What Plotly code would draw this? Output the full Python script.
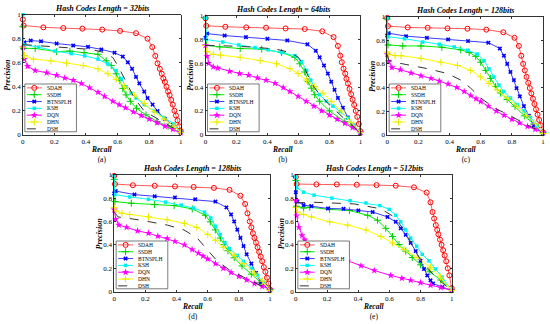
import plotly.graph_objects as go

# ---------------- DATA ----------------
METHODS = ["SDAH", "SSDH", "BTNSPLH", "KSH", "DQN", "DHN", "DSH"]
PANEL_TITLES = ["Hash Codes Length = 32bits", "Hash Codes Length = 64bits",
                "Hash Codes Length = 128bits", "Hash Codes Length = 128bits",
                "Hash Codes Length = 512bits"]
PANEL_LETTERS = ["(a)", "(b)", "(c)", "(d)", "(e)"]
TICK_VALS = [0, 0.2, 0.4, 0.6, 0.8, 1]
TICK_TEXT = ["0", "0.2", "0.4", "0.6", "0.8", "1"]

# ---- (a) 32 bits ----
a_sdah_r = [0, 0.005, 0.13, 0.256, 0.377, 0.503, 0.616, 0.717, 0.79, 0.82, 0.839, 0.853, 0.868, 0.88, 0.89, 0.90, 0.91, 0.92, 0.93, 0.94, 0.95, 0.96, 0.97, 0.98, 0.99, 1.0]
a_sdah_p = [0.96, 0.91, 0.895, 0.889, 0.884, 0.876, 0.865, 0.846, 0.80, 0.73, 0.657, 0.595, 0.549, 0.508, 0.47, 0.44, 0.40, 0.36, 0.33, 0.29, 0.25, 0.20, 0.16, 0.12, 0.07, 0.03]
a_ssdh_r = [0, 0.005, 0.078, 0.214, 0.298, 0.388, 0.476, 0.528, 0.56, 0.591, 0.612, 0.633, 0.654, 0.681, 0.72, 0.78, 0.85, 0.92, 1.0]
a_ssdh_p = [0.90, 0.72, 0.719, 0.692, 0.697, 0.684, 0.67, 0.616, 0.576, 0.508, 0.454, 0.386, 0.332, 0.278, 0.22, 0.165, 0.11, 0.07, 0.02]
a_btn_r = [0, 0.01, 0.05, 0.115, 0.214, 0.319, 0.413, 0.497, 0.581, 0.633, 0.665, 0.692, 0.717, 0.738, 0.769, 0.79, 0.822, 0.853, 0.9, 0.95, 1.0]
a_btn_p = [0.724, 0.77, 0.785, 0.778, 0.76, 0.743, 0.732, 0.711, 0.684, 0.651, 0.603, 0.549, 0.481, 0.427, 0.359, 0.305, 0.251, 0.197, 0.13, 0.08, 0.02]
a_ksh_r = [0, 0.005, 0.099, 0.203, 0.308, 0.392, 0.476, 0.539, 0.591, 0.623, 0.654, 0.686, 0.717, 0.769, 0.832, 0.895, 0.958, 1.0]
a_ksh_p = [1.0, 0.75, 0.73, 0.697, 0.676, 0.657, 0.63, 0.589, 0.535, 0.468, 0.40, 0.346, 0.305, 0.251, 0.197, 0.143, 0.089, 0.02]
a_dqn_r = [0, 0.01, 0.03, 0.078, 0.151, 0.214, 0.266, 0.319, 0.371, 0.423, 0.476, 0.518, 0.57, 0.61, 0.65, 0.70, 0.75, 0.80, 0.85, 0.90, 0.95, 1.0]
a_dqn_p = [0.73, 0.63, 0.57, 0.535, 0.516, 0.495, 0.473, 0.454, 0.427, 0.392, 0.354, 0.319, 0.278, 0.25, 0.225, 0.19, 0.16, 0.13, 0.10, 0.07, 0.045, 0.015]
a_dhn_r = [0, 0.01, 0.067, 0.178, 0.277, 0.382, 0.476, 0.539, 0.591, 0.644, 0.706, 0.769, 0.832, 0.895, 0.958, 1.0]
a_dhn_p = [0.73, 0.66, 0.63, 0.616, 0.597, 0.576, 0.549, 0.508, 0.462, 0.40, 0.33, 0.26, 0.19, 0.13, 0.07, 0.02]
a_dsh_r = [0, 0.078, 0.287, 0.434, 0.518, 0.57, 0.602, 0.633, 0.665, 0.706, 0.769, 0.874, 1.0]
a_dsh_p = [0.751, 0.743, 0.724, 0.711, 0.684, 0.643, 0.576, 0.495, 0.414, 0.305, 0.197, 0.116, 0.02]

# ---- (b) 64 bits ----
b_sdah_r = [0, 0.005, 0.128, 0.263, 0.391, 0.517, 0.641, 0.754, 0.827, 0.855, 0.87, 0.88, 0.891, 0.902, 0.91, 0.92, 0.93, 0.94, 0.95, 0.96, 0.97, 0.98, 0.99, 1.0]
b_sdah_p = [0.978, 0.915, 0.907, 0.902, 0.899, 0.893, 0.888, 0.869, 0.82, 0.746, 0.664, 0.609, 0.555, 0.514, 0.47, 0.43, 0.385, 0.34, 0.295, 0.25, 0.20, 0.15, 0.09, 0.03]
b_ssdh_r = [0, 0.005, 0.092, 0.224, 0.363, 0.491, 0.577, 0.609, 0.641, 0.662, 0.684, 0.705, 0.737, 0.8, 0.9, 1.0]
b_ssdh_p = [0.98, 0.75, 0.738, 0.724, 0.719, 0.691, 0.65, 0.596, 0.527, 0.445, 0.391, 0.336, 0.281, 0.20, 0.11, 0.02]
b_btn_r = [0, 0.01, 0.124, 0.261, 0.40, 0.528, 0.658, 0.712, 0.737, 0.765, 0.79, 0.812, 0.833, 0.855, 0.887, 0.919, 0.951, 1.0]
b_btn_p = [0.814, 0.85, 0.833, 0.82, 0.806, 0.792, 0.76, 0.705, 0.65, 0.582, 0.514, 0.445, 0.377, 0.309, 0.227, 0.145, 0.077, 0.01]
b_ksh_r = [0, 0.005, 0.111, 0.214, 0.32, 0.406, 0.491, 0.577, 0.62, 0.652, 0.679, 0.705, 0.737, 0.78, 0.823, 0.87, 0.92, 0.96, 1.0]
b_ksh_p = [0.98, 0.80, 0.779, 0.754, 0.732, 0.713, 0.691, 0.664, 0.615, 0.541, 0.459, 0.391, 0.336, 0.281, 0.24, 0.195, 0.14, 0.08, 0.02]
b_dqn_r = [0, 0.01, 0.02, 0.05, 0.079, 0.156, 0.22, 0.278, 0.335, 0.391, 0.449, 0.502, 0.545, 0.598, 0.65, 0.70, 0.75, 0.80, 0.85, 0.90, 0.95, 1.0]
b_dqn_p = [0.75, 0.66, 0.60, 0.57, 0.56, 0.533, 0.514, 0.50, 0.478, 0.459, 0.432, 0.396, 0.363, 0.322, 0.28, 0.24, 0.20, 0.165, 0.13, 0.095, 0.06, 0.02]
b_dhn_r = [0, 0.01, 0.05, 0.096, 0.224, 0.353, 0.459, 0.545, 0.598, 0.652, 0.705, 0.759, 0.812, 0.876, 0.94, 1.0]
b_dhn_p = [0.75, 0.70, 0.675, 0.669, 0.65, 0.623, 0.596, 0.555, 0.514, 0.459, 0.404, 0.35, 0.281, 0.199, 0.104, 0.02]
b_dsh_r = [0, 0.1, 0.3, 0.45, 0.55, 0.6, 0.63, 0.66, 0.7, 0.75, 0.8, 0.9, 1.0]
b_dsh_p = [0.75, 0.748, 0.737, 0.72, 0.69, 0.65, 0.59, 0.50, 0.40, 0.32, 0.25, 0.13, 0.02]

# ---- (c) 128 bits ----
c_sdah_r = [0, 0.005, 0.132, 0.26, 0.387, 0.515, 0.636, 0.745, 0.817, 0.845, 0.86, 0.872, 0.883, 0.894, 0.905, 0.915, 0.925, 0.935, 0.945, 0.955, 0.965, 0.975, 0.985, 1.0]
c_sdah_p = [0.99, 0.92, 0.909, 0.906, 0.901, 0.898, 0.89, 0.868, 0.821, 0.752, 0.669, 0.60, 0.545, 0.49, 0.44, 0.395, 0.35, 0.305, 0.26, 0.215, 0.17, 0.125, 0.08, 0.02]
c_ssdh_r = [0, 0.005, 0.10, 0.217, 0.351, 0.472, 0.526, 0.568, 0.60, 0.632, 0.664, 0.696, 0.728, 0.77, 0.82, 0.88, 0.94, 1.0]
c_ssdh_p = [0.98, 0.76, 0.752, 0.752, 0.741, 0.719, 0.697, 0.664, 0.614, 0.545, 0.477, 0.408, 0.353, 0.298, 0.24, 0.16, 0.09, 0.02]
c_btn_r = [0, 0.01, 0.121, 0.255, 0.391, 0.519, 0.649, 0.723, 0.749, 0.77, 0.791, 0.813, 0.83, 0.851, 0.877, 0.909, 0.94, 1.0]
c_btn_p = [0.84, 0.86, 0.835, 0.821, 0.807, 0.793, 0.78, 0.73, 0.669, 0.60, 0.532, 0.463, 0.394, 0.325, 0.242, 0.16, 0.077, 0.01]
c_ksh_r = [0, 0.005, 0.111, 0.228, 0.334, 0.43, 0.515, 0.579, 0.621, 0.653, 0.685, 0.717, 0.749, 0.791, 0.834, 0.877, 0.919, 0.962, 1.0]
c_ksh_p = [0.99, 0.83, 0.813, 0.785, 0.766, 0.744, 0.716, 0.683, 0.628, 0.559, 0.49, 0.421, 0.366, 0.311, 0.256, 0.201, 0.146, 0.077, 0.01]
c_dqn_r = [0, 0.01, 0.03, 0.085, 0.153, 0.217, 0.281, 0.334, 0.391, 0.447, 0.494, 0.536, 0.57, 0.60, 0.65, 0.70, 0.75, 0.80, 0.85, 0.90, 0.95, 1.0]
c_dqn_p = [0.68, 0.62, 0.57, 0.551, 0.523, 0.499, 0.477, 0.455, 0.43, 0.40, 0.366, 0.331, 0.305, 0.28, 0.24, 0.20, 0.165, 0.13, 0.10, 0.07, 0.045, 0.02]
c_dhn_r = [0, 0.01, 0.05, 0.089, 0.217, 0.345, 0.451, 0.536, 0.60, 0.653, 0.706, 0.77, 0.834, 0.898, 0.951, 1.0]
c_dhn_p = [0.70, 0.68, 0.67, 0.669, 0.647, 0.614, 0.587, 0.545, 0.49, 0.435, 0.38, 0.311, 0.242, 0.16, 0.091, 0.01]
c_dsh_r = [0, 0.01, 0.047, 0.26, 0.387, 0.472, 0.536, 0.60, 0.685, 0.791, 0.90, 1.0]
c_dsh_p = [0.68, 0.63, 0.614, 0.559, 0.518, 0.463, 0.394, 0.311, 0.229, 0.16, 0.08, 0.02]

# ---- (d) 128 bits ----
d_sdah_r = [0, 0.005, 0.12, 0.26, 0.39, 0.51, 0.64, 0.74, 0.81, 0.84, 0.855, 0.87, 0.88, 0.89, 0.90, 0.91, 0.92, 0.93, 0.94, 0.95, 0.96, 0.97, 0.98, 0.99, 1.0]
d_sdah_p = [0.99, 0.92, 0.91, 0.905, 0.90, 0.895, 0.887, 0.87, 0.82, 0.75, 0.67, 0.60, 0.55, 0.50, 0.46, 0.42, 0.38, 0.34, 0.30, 0.26, 0.21, 0.17, 0.12, 0.07, 0.02]
d_ssdh_r = [0, 0.005, 0.11, 0.258, 0.385, 0.501, 0.586, 0.617, 0.649, 0.681, 0.702, 0.73, 0.77, 0.82, 0.88, 0.94, 1.0]
d_ssdh_p = [0.96, 0.77, 0.756, 0.744, 0.736, 0.708, 0.653, 0.597, 0.528, 0.458, 0.403, 0.35, 0.29, 0.22, 0.15, 0.08, 0.02]
d_btn_r = [0, 0.01, 0.13, 0.26, 0.39, 0.52, 0.65, 0.72, 0.75, 0.77, 0.79, 0.81, 0.83, 0.85, 0.88, 0.91, 0.94, 1.0]
d_btn_p = [0.84, 0.86, 0.83, 0.815, 0.805, 0.79, 0.77, 0.72, 0.66, 0.60, 0.53, 0.46, 0.39, 0.32, 0.24, 0.16, 0.08, 0.01]
d_ksh_r = [0, 0.005, 0.10, 0.22, 0.33, 0.43, 0.51, 0.58, 0.62, 0.65, 0.68, 0.71, 0.74, 0.79, 0.83, 0.88, 0.92, 0.96, 1.0]
d_ksh_p = [0.99, 0.83, 0.81, 0.79, 0.765, 0.74, 0.715, 0.68, 0.63, 0.56, 0.49, 0.42, 0.37, 0.31, 0.26, 0.20, 0.14, 0.08, 0.01]
d_dqn_r = [0, 0.01, 0.03, 0.08, 0.15, 0.22, 0.28, 0.34, 0.39, 0.45, 0.50, 0.54, 0.57, 0.60, 0.65, 0.70, 0.75, 0.80, 0.85, 0.90, 0.95, 1.0]
d_dqn_p = [0.70, 0.62, 0.57, 0.55, 0.52, 0.50, 0.475, 0.455, 0.43, 0.40, 0.36, 0.33, 0.305, 0.28, 0.24, 0.20, 0.165, 0.13, 0.10, 0.07, 0.045, 0.02]
d_dhn_r = [0, 0.01, 0.05, 0.10, 0.22, 0.34, 0.45, 0.53, 0.60, 0.65, 0.70, 0.77, 0.83, 0.90, 0.95, 1.0]
d_dhn_p = [0.72, 0.69, 0.67, 0.66, 0.64, 0.615, 0.585, 0.55, 0.49, 0.44, 0.38, 0.31, 0.24, 0.16, 0.09, 0.01]
d_dsh_r = [0, 0.025, 0.173, 0.342, 0.448, 0.533, 0.596, 0.66, 0.744, 0.85, 1.0]
d_dsh_p = [0.68, 0.639, 0.611, 0.569, 0.528, 0.458, 0.361, 0.264, 0.181, 0.111, 0.014]

# ---- (e) 512 bits ----
e_sdah_r = [0, 0.005, 0.132, 0.263, 0.391, 0.518, 0.641, 0.758, 0.839, 0.864, 0.877, 0.887, 0.898, 0.907, 0.915, 0.925, 0.935, 0.945, 0.955, 0.965, 0.975, 0.985, 1.0]
e_sdah_p = [0.98, 0.92, 0.917, 0.917, 0.914, 0.911, 0.906, 0.892, 0.847, 0.764, 0.681, 0.625, 0.569, 0.528, 0.49, 0.445, 0.40, 0.355, 0.31, 0.26, 0.20, 0.14, 0.03]
e_ssdh_r = [0, 0.005, 0.05, 0.089, 0.217, 0.344, 0.461, 0.524, 0.577, 0.62, 0.662, 0.705, 0.747, 0.80, 0.86, 0.93, 1.0]
e_ssdh_p = [0.95, 0.73, 0.715, 0.722, 0.703, 0.694, 0.653, 0.611, 0.542, 0.472, 0.403, 0.347, 0.292, 0.23, 0.17, 0.10, 0.02]
e_btn_r = [0, 0.01, 0.05, 0.10, 0.206, 0.306, 0.401, 0.493, 0.588, 0.641, 0.673, 0.705, 0.737, 0.769, 0.80, 0.822, 0.843, 0.864, 0.88, 0.94, 1.0]
e_btn_p = [0.85, 0.77, 0.74, 0.731, 0.711, 0.708, 0.694, 0.681, 0.639, 0.597, 0.542, 0.486, 0.417, 0.347, 0.264, 0.194, 0.139, 0.097, 0.07, 0.04, 0.01]
e_ksh_r = [0, 0.005, 0.05, 0.117, 0.231, 0.348, 0.45, 0.539, 0.599, 0.641, 0.673, 0.705, 0.737, 0.775, 0.811, 0.854, 0.896, 0.938, 1.0]
e_ksh_p = [0.98, 0.89, 0.85, 0.825, 0.80, 0.778, 0.758, 0.736, 0.703, 0.653, 0.597, 0.528, 0.458, 0.389, 0.319, 0.264, 0.194, 0.125, 0.01]
e_dqn_r = [0, 0.005, 0.02, 0.04, 0.057, 0.121, 0.206, 0.27, 0.333, 0.418, 0.503, 0.609, 0.68, 0.737, 0.80, 0.864, 0.93, 1.0]
e_dqn_p = [0.78, 0.65, 0.55, 0.48, 0.444, 0.383, 0.328, 0.30, 0.264, 0.222, 0.181, 0.139, 0.115, 0.097, 0.077, 0.056, 0.035, 0.014]
e_dhn_r = [0, 0.01, 0.05, 0.10, 0.217, 0.333, 0.45, 0.546, 0.62, 0.694, 0.779, 0.864, 0.928, 1.0]
e_dhn_p = [0.72, 0.68, 0.66, 0.639, 0.597, 0.569, 0.528, 0.472, 0.417, 0.361, 0.292, 0.208, 0.125, 0.01]
e_dsh_r = [0, 0.121, 0.376, 0.546, 0.631, 0.694, 0.737, 0.779, 0.822, 0.90, 1.0]
e_dsh_p = [0.76, 0.764, 0.75, 0.708, 0.639, 0.528, 0.425, 0.319, 0.236, 0.12, 0.01]

PANEL_DATA = [
    [(a_sdah_r, a_sdah_p), (a_ssdh_r, a_ssdh_p), (a_btn_r, a_btn_p), (a_ksh_r, a_ksh_p), (a_dqn_r, a_dqn_p), (a_dhn_r, a_dhn_p), (a_dsh_r, a_dsh_p)],
    [(b_sdah_r, b_sdah_p), (b_ssdh_r, b_ssdh_p), (b_btn_r, b_btn_p), (b_ksh_r, b_ksh_p), (b_dqn_r, b_dqn_p), (b_dhn_r, b_dhn_p), (b_dsh_r, b_dsh_p)],
    [(c_sdah_r, c_sdah_p), (c_ssdh_r, c_ssdh_p), (c_btn_r, c_btn_p), (c_ksh_r, c_ksh_p), (c_dqn_r, c_dqn_p), (c_dhn_r, c_dhn_p), (c_dsh_r, c_dsh_p)],
    [(d_sdah_r, d_sdah_p), (d_ssdh_r, d_ssdh_p), (d_btn_r, d_btn_p), (d_ksh_r, d_ksh_p), (d_dqn_r, d_dqn_p), (d_dhn_r, d_dhn_p), (d_dsh_r, d_dsh_p)],
    [(e_sdah_r, e_sdah_p), (e_ssdh_r, e_ssdh_p), (e_btn_r, e_btn_p), (e_ksh_r, e_ksh_p), (e_dqn_r, e_dqn_p), (e_dhn_r, e_dhn_p), (e_dsh_r, e_dsh_p)],
]

# ---------------- STYLE / LAYOUT ----------------
W, H = 550, 324
FONT = "Liberation Serif"
# plot boxes in pixels: left, top, right, bottom
BOXES = [(21, 11, 180, 134), (205, 12, 361, 134), (388, 13, 545, 134),
         (113, 175, 270, 295), (296, 175, 453, 295)]
STYLES = [
    dict(line=dict(color="#FF5A5A", width=1), marker=dict(symbol="circle-open", size=5, color="#FF0000", line=dict(width=1, color="#FF0000"))),
    dict(line=dict(color="#00EE00", width=1), marker=dict(symbol="cross-thin-open", size=5, color="#00CC00", line=dict(width=1, color="#00CC00"))),
    dict(line=dict(color="#3C3CFF", width=1), marker=dict(symbol="x", size=4, color="#0000FF", line=dict(width=0))),
    dict(line=dict(color="#00FFFF", width=1), marker=dict(symbol="square", size=3.5, color="#00EEEE", line=dict(width=0))),
    dict(line=dict(color="#FF00FF", width=1), marker=dict(symbol="star", size=5.5, color="#FF00FF", line=dict(width=0))),
    dict(line=dict(color="#FFFF00", width=1), marker=dict(symbol="cross-thin-open", size=5, color="#E8E800", line=dict(width=1, color="#E8E800"))),
    dict(line=dict(color="#333333", width=1, dash="dash"), marker=None),
]

fig = go.Figure()
layout = dict(width=W, height=H, margin=dict(l=0, r=0, t=0, b=0),
              paper_bgcolor="white", plot_bgcolor="rgba(0,0,0,0)", showlegend=False,
              font=dict(family=FONT, size=7, color="black"))
annotations = []

for k, (box, data) in enumerate(zip(BOXES, PANEL_DATA)):
    l, t, r, b = box
    ax = "" if k == 0 else str(k + 1)
    axis_common = dict(range=[0, 1], tickvals=TICK_VALS, ticktext=TICK_TEXT,
                       showline=True, linecolor="black", linewidth=0.8, mirror="ticks",
                       ticks="inside", ticklen=2, tickcolor="black", tickwidth=0.8,
                       showgrid=False, zeroline=False,
                       tickfont=dict(family=FONT, size=7, color="black"))
    layout["xaxis" + ax] = dict(domain=[l / W, r / W], anchor="y" + ax, **axis_common)
    layout["yaxis" + ax] = dict(domain=[1 - b / H, 1 - t / H], anchor="x" + ax, **axis_common)
    for name, (rr, pp), st in zip(METHODS, data, STYLES):
        if st["marker"] is None:
            fig.add_trace(go.Scatter(x=rr, y=pp, mode="lines", name=name, line=st["line"],
                                     xaxis="x" + ax, yaxis="y" + ax, cliponaxis=False))
        else:
            fig.add_trace(go.Scatter(x=rr, y=pp, mode="lines+markers", name=name, line=st["line"],
                                     marker=st["marker"], xaxis="x" + ax, yaxis="y" + ax, cliponaxis=False))
    cx = (l + r) / 2
    annotations.append(dict(text="<b><i>%s</i></b>" % PANEL_TITLES[k], x=cx / W, y=1 - (t - 6) / H,
                            xref="paper", yref="paper", showarrow=False, xanchor="center", yanchor="middle",
                            font=dict(family=FONT, size=8)))
    annotations.append(dict(text="<b><i>Recall</i></b><br>%s" % PANEL_LETTERS[k], x=cx / W, y=1 - (b + 9) / H,
                            xref="paper", yref="paper", showarrow=False, xanchor="center", yanchor="top",
                            font=dict(family=FONT, size=7.5)))
    annotations.append(dict(text="<b><i>Precision</i></b>", x=(l - 15) / W, y=1 - ((t + b) / 2) / H,
                            xref="paper", yref="paper", showarrow=False, xanchor="center", yanchor="middle",
                            textangle=-90, font=dict(family=FONT, size=8)))

# ---- hand-built compact legends on a pixel overlay axis ----
layout["xaxis6"] = dict(domain=[0, 1], range=[0, W], visible=False, fixedrange=True, anchor="y6")
layout["yaxis6"] = dict(domain=[0, 1], range=[H, 0], visible=False, fixedrange=True, anchor="x6")
for k, box in enumerate(BOXES):
    l, t, r, b = box
    bl, bt, br, bb = l + 2, b - 52, l + 54, b - 3
    fig.add_trace(go.Scatter(x=[bl, br, br, bl, bl], y=[bt, bt, bb, bb, bt], mode="lines",
                             fill="toself", fillcolor="white", line=dict(color="#444444", width=0.7),
                             xaxis="x6", yaxis="y6", hoverinfo="skip"))
    for i, (name, st) in enumerate(zip(METHODS, STYLES)):
        yy = bt + 4 + i * 7
        fig.add_trace(go.Scatter(x=[bl + 2, bl + 17], y=[yy, yy], mode="lines", line=st["line"],
                                 xaxis="x6", yaxis="y6", hoverinfo="skip"))
        if st["marker"] is not None:
            fig.add_trace(go.Scatter(x=[bl + 9.5], y=[yy], mode="markers", marker=st["marker"],
                                     xaxis="x6", yaxis="y6", hoverinfo="skip"))
        annotations.append(dict(text=name, x=bl + 20, y=yy, xref="x6", yref="y6", showarrow=False,
                                xanchor="left", yanchor="middle", font=dict(family=FONT, size=5.5)))

layout["annotations"] = annotations
fig.update_layout(**layout)
fig.write_html("out.html", config={"displayModeBar": False, "staticPlot": True},
               post_script="document.body.style.margin='0';document.body.style.overflow='hidden';")
